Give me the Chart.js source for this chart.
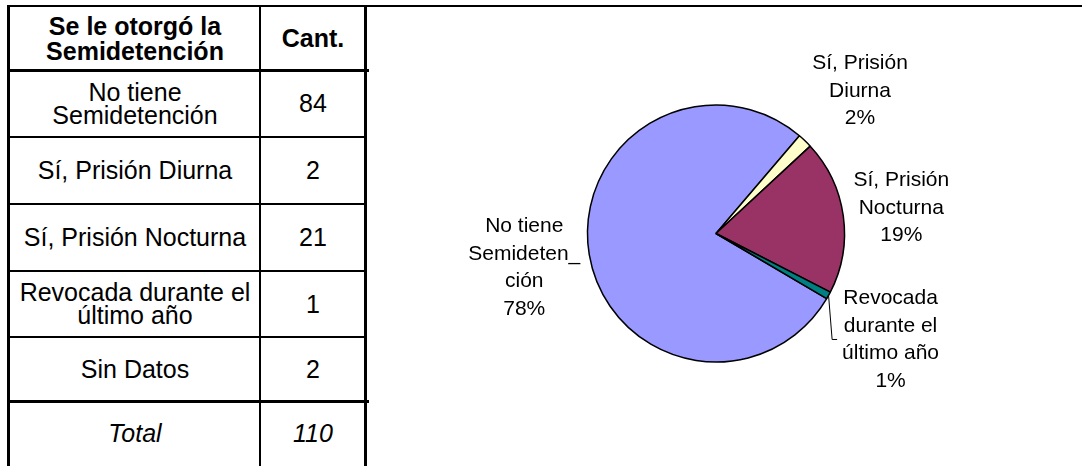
<!DOCTYPE html>
<html lang="es">
<head>
<meta charset="utf-8">
<title>Semidetención</title>
<script src="https://cdn.jsdelivr.net/npm/chart.js@4/dist/chart.umd.min.js"></script>
<style>
  html, body { margin: 0; padding: 0; background: #fff; }
  body { width: 1082px; height: 466px; position: relative; overflow: hidden;
         font-family: Arial, "Liberation Sans", sans-serif; color: #000; }
  .line { position: absolute; background: #000; }
  .cell { position: absolute; display: flex; align-items: center; justify-content: center;
          text-align: center; font-size: 25px; line-height: 23px; white-space: pre; }
  .head { font-weight: bold; line-height: 25px; }
  .total { font-style: italic; }
  #pieBox { position: absolute; left: 370px; top: 0; width: 712px; height: 466px; }
</style>
</head>
<body>
<div id="table"></div>
<div id="pieBox"><canvas id="pie"></canvas></div>
<script>
// Table: categories and counts
const tableHeader = ["Se le otorgó la\nSemidetención", "Cant."];
const tableCategories = [
  "No tiene\nSemidetención",
  "Sí, Prisión Diurna",
  "Sí, Prisión Nocturna",
  "Revocada durante el\núltimo año",
  "Sin Datos"
];
const tableCounts = [84, 2, 21, 1, 2];
const totalLabel = "Total";

// Pie: categories with a known status (Sin Datos left out)
const pieCategories = ["No tiene\nSemideten_\nción", "Sí, Prisión\nDiurna", "Sí, Prisión\nNocturna", "Revocada\ndurante el\núltimo año"];
const pieValues = [84, 2, 21, 1];
const pieColors = ["#9999FF", "#FFFFCC", "#993366", "#008080"];

// ---- table layout ----
const colX = [10, 260, 366];              // column edges
const rowY = [7, 70, 137, 204, 271, 337, 401, 466]; // row edges
const table = document.getElementById('table');

function addLine(x, y, w, h) {
  const d = document.createElement('div');
  d.className = 'line';
  Object.assign(d.style, { left: x + 'px', top: y + 'px', width: w + 'px', height: h + 'px' });
  table.appendChild(d);
}
function addCell(text, col, row, cls) {
  const d = document.createElement('div');
  d.className = 'cell' + (cls ? ' ' + cls : '');
  d.textContent = text;
  Object.assign(d.style, {
    left: colX[col] + 'px', top: rowY[row] + 'px',
    width: (colX[col + 1] - colX[col]) + 'px', height: (rowY[row + 1] - rowY[row]) + 'px'
  });
  table.appendChild(d);
}

addCell(tableHeader[0], 0, 0, 'head');
addCell(tableHeader[1], 1, 0, 'head');
tableCategories.forEach((c, i) => {
  addCell(c, 0, i + 1);
  addCell(String(tableCounts[i]), 1, i + 1);
});
addCell(totalLabel, 0, 6, 'total');
addCell(String(tableCounts.reduce((a, b) => a + b, 0)), 1, 6, 'total');

// borders
addLine(7, 5, 1075, 2);       // top edge, running across the chart too
addLine(7, 5, 3, 461);        // left edge
addLine(259, 6, 2, 460);      // middle column
addLine(364, 5, 3, 461);      // right edge
addLine(7, 69, 362, 3);       // under header
[136, 203, 270, 336].forEach(y => addLine(7, y, 360, 2));
addLine(7, 400, 362, 3);      // above total

// ---- pie ----
const labelStyle = {
  font: '21px Arial, "Liberation Sans", sans-serif',
  lineHeight: 27.5,
  // label centre relative to the slice's outer edge at its mid angle
  offsets: [[-65, 13], [55, -50], [58, -8], [62, 44]],
  leader: [false, false, false, true]
};

const pieLabels = {
  id: 'pieLabels',
  afterDatasetsDraw(chart) {
    const ctx = chart.ctx;
    const meta = chart.getDatasetMeta(0);
    const data = chart.data.datasets[0].data;
    const total = data.reduce((a, b) => a + b, 0);
    ctx.save();
    ctx.font = labelStyle.font;
    ctx.fillStyle = '#000';
    ctx.textAlign = 'center';
    ctx.textBaseline = 'middle';
    meta.data.forEach((arc, i) => {
      const p = arc.getProps(['x', 'y', 'startAngle', 'endAngle', 'outerRadius'], true);
      const mid = (p.startAngle + p.endAngle) / 2;
      const ax = p.x + Math.cos(mid) * p.outerRadius;
      const ay = p.y + Math.sin(mid) * p.outerRadius;
      const cx = ax + labelStyle.offsets[i][0];
      const cy = ay + labelStyle.offsets[i][1];
      const lines = chart.data.labels[i].split('\n');
      lines.push(Math.round(data[i] / total * 100) + '%');
      const h = lines.length * labelStyle.lineHeight;
      lines.forEach((t, k) => {
        ctx.fillText(t, cx, cy - h / 2 + labelStyle.lineHeight * (k + 0.5));
      });
      if (labelStyle.leader[i]) {
        const w = Math.max(...lines.map(t => ctx.measureText(t).width));
        const left = cx - w / 2;
        ctx.beginPath();
        ctx.strokeStyle = '#000';
        ctx.lineWidth = 1;
        ctx.moveTo(ax, ay);
        ctx.lineTo(left - 10, cy);
        ctx.lineTo(left - 5, cy);
        ctx.stroke();
      }
    });
    ctx.restore();
  }
};

new Chart(document.getElementById('pie'), {
  type: 'pie',
  data: {
    labels: pieCategories,
    datasets: [{
      data: pieValues,
      backgroundColor: pieColors,
      borderColor: '#000',
      borderWidth: 1.5
    }]
  },
  options: {
    responsive: true,
    maintainAspectRatio: false,
    animation: false,
    rotation: 120.5,
    radius: 128.5,
    layout: { padding: { left: 46, right: 66, top: 1, bottom: 0 } },
    plugins: { legend: { display: false }, tooltip: { enabled: false } }
  },
  plugins: [pieLabels]
});
</script>
</body>
</html>
